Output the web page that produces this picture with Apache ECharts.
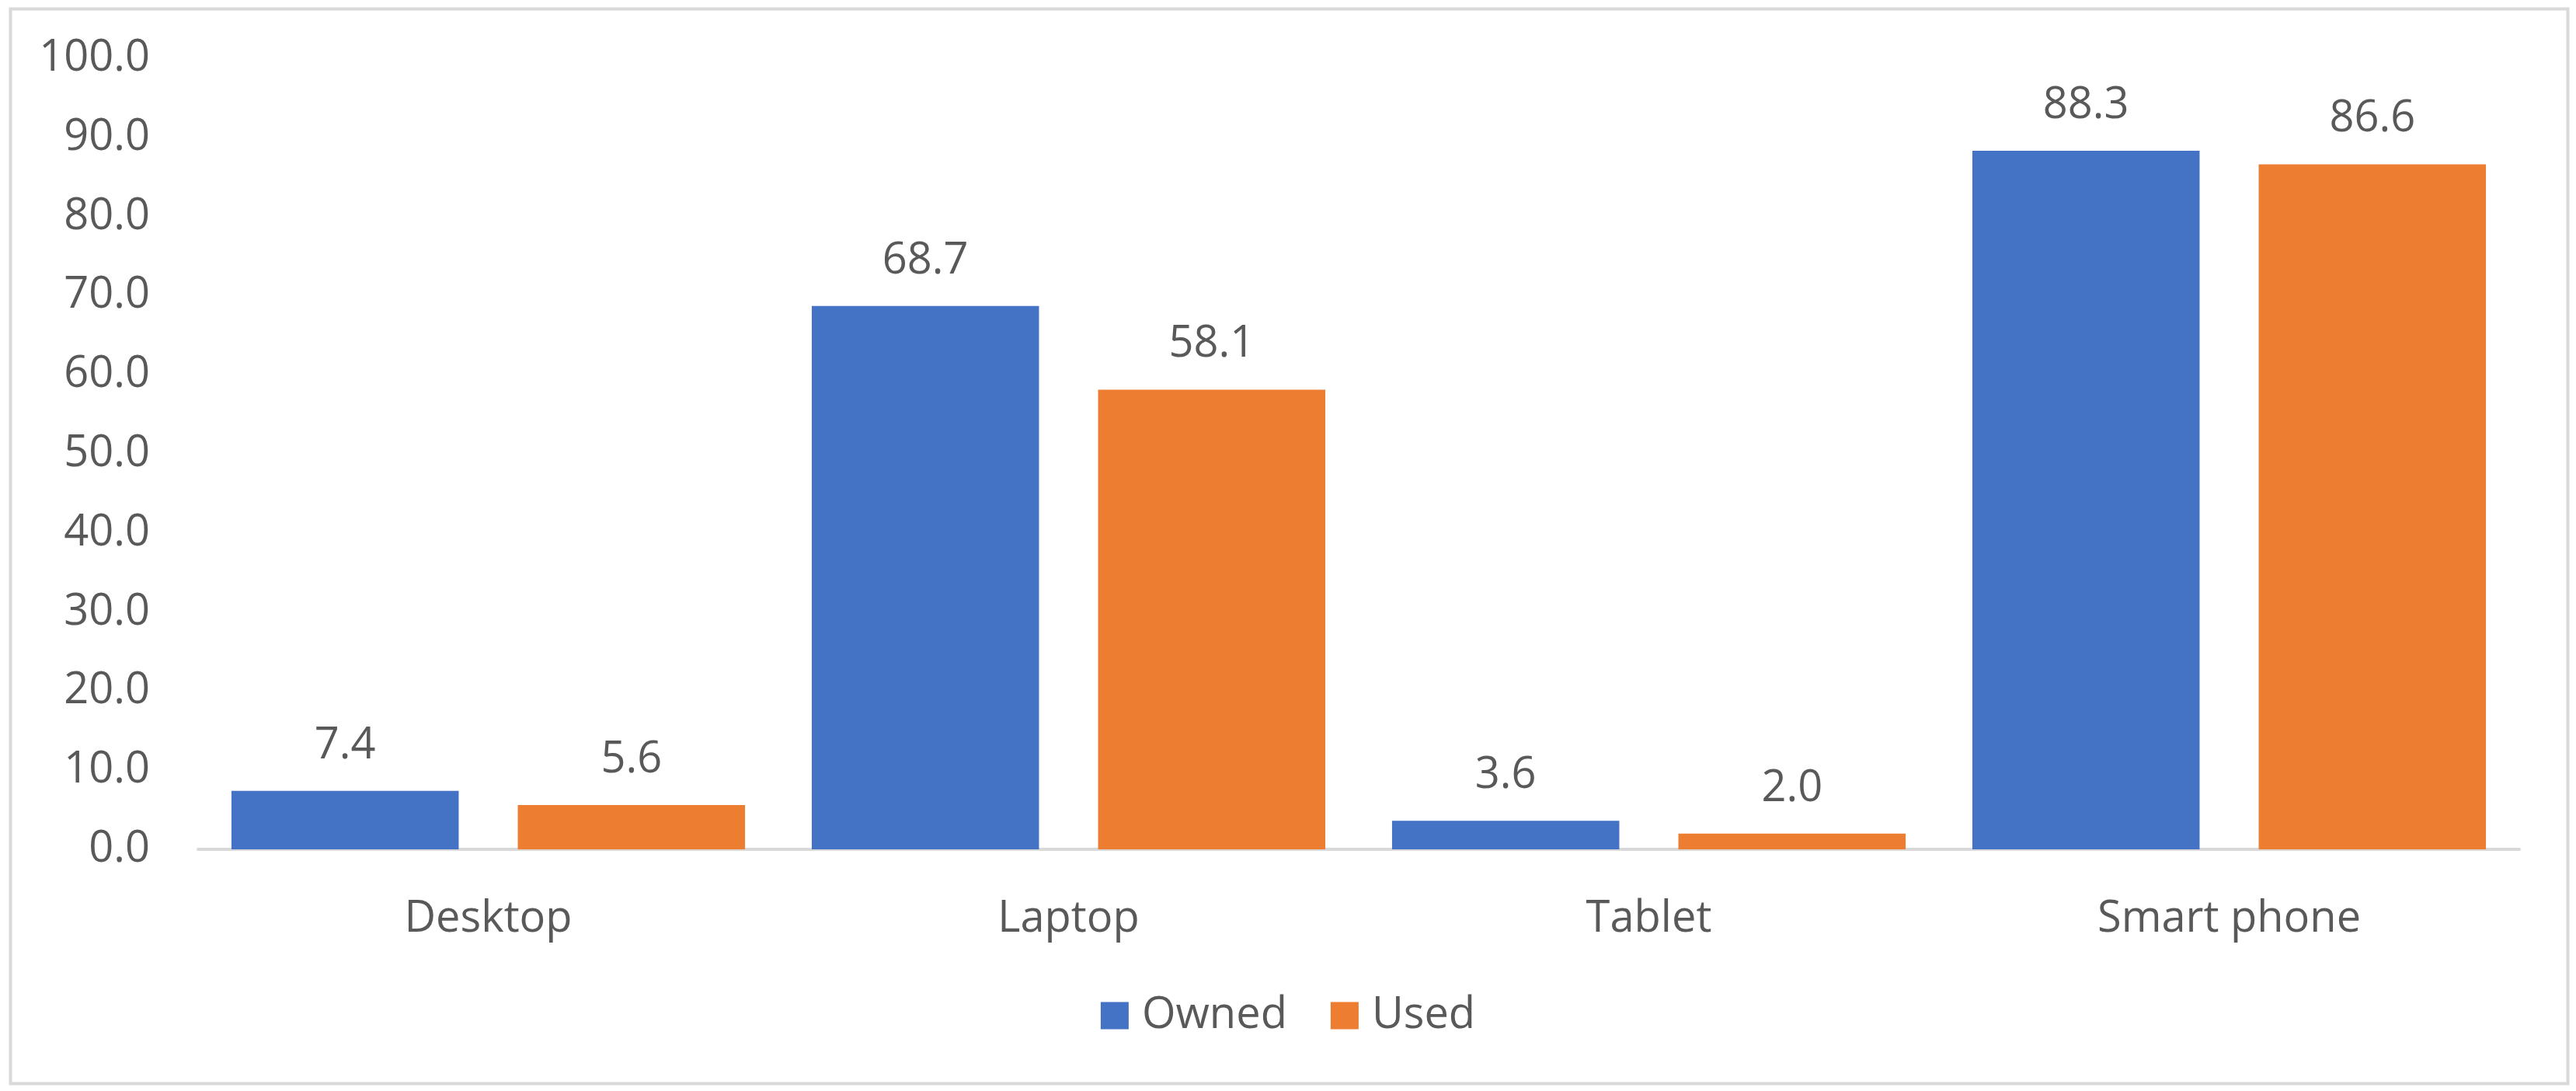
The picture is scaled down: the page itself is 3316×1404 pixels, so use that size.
<!DOCTYPE html>
<html>
<head>
<meta charset="utf-8">
<style>
  html, body { margin: 0; padding: 0; background: #ffffff; }
  #chart { width: 3316px; height: 1404px; }
</style>
<script src="https://cdn.jsdelivr.net/npm/echarts@6/dist/echarts.min.js"></script>
</head>
<body>
<div id="chart"></div>
<script>
const categories = ['Desktop', 'Laptop', 'Tablet', 'Smart phone'];
const seriesNames = ['Owned', 'Used'];
const ownedValues = [7.4, 68.7, 3.6, 88.3];
const usedValues = [5.6, 58.1, 2.0, 86.6];
const yTicks = { min: 0, max: 100, interval: 10 };

const FONT = '"Open Sans", "Noto Sans", sans-serif';
const TEXT_COLOR = '#595959';

const chart = echarts.init(document.getElementById('chart'), null, { renderer: 'canvas' });

const labelStyle = {
  show: true,
  position: 'top',
  distance: 30,
  color: TEXT_COLOR,
  fontFamily: FONT,
  fontSize: 56,
  formatter: p => p.value.toFixed(1)
};

chart.setOption({
  backgroundColor: '#ffffff',
  animation: false,
  graphic: [{
    type: 'rect',
    left: 11,
    top: 9,
    shape: { width: 3292, height: 1383 },
    style: { fill: 'none', stroke: '#D9D9D9', lineWidth: 4 },
    silent: true,
    z: -10
  }],
  grid: { left: 255, right: 73, top: 75, bottom: 311, containLabel: false },
  legend: {
    data: seriesNames,
    left: 'center',
    top: 1274,
    itemWidth: 36,
    itemHeight: 35,
    itemGap: 56,
    icon: 'rect',
    textStyle: { color: TEXT_COLOR, fontFamily: FONT, fontSize: 56, padding: [0, 0, 0, 12] }
  },
  xAxis: {
    type: 'category',
    data: categories,
    axisLine: { show: true, lineStyle: { color: '#D9D9D9', width: 4 } },
    axisTick: { show: false },
    axisLabel: { color: TEXT_COLOR, fontFamily: FONT, fontSize: 56, margin: 62 },
    splitLine: { show: false }
  },
  yAxis: {
    type: 'value',
    min: yTicks.min,
    max: yTicks.max,
    interval: yTicks.interval,
    axisLine: { show: false },
    axisTick: { show: false },
    splitLine: { show: false },
    axisLabel: {
      color: TEXT_COLOR, fontFamily: FONT, fontSize: 56, margin: 62,
      formatter: v => v.toFixed(1)
    }
  },
  series: [
    {
      name: seriesNames[0],
      type: 'bar',
      data: ownedValues,
      itemStyle: { color: '#4472C4' },
      barGap: '26%',
      barCategoryGap: '11.5%',
      label: labelStyle
    },
    {
      name: seriesNames[1],
      type: 'bar',
      data: usedValues,
      itemStyle: { color: '#ED7D31' },
      barGap: '26%',
      barCategoryGap: '11.5%',
      label: labelStyle
    }
  ]
});
</script>
</body>
</html>
